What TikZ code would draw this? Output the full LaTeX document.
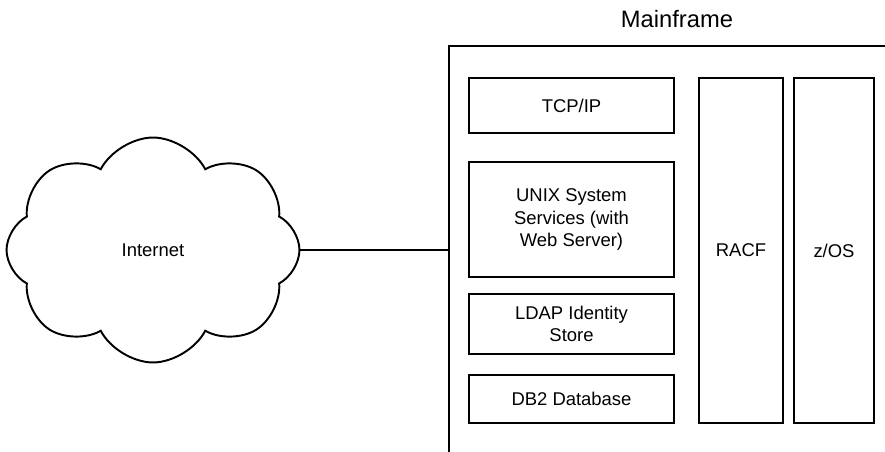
\documentclass[tikz,border=0pt]{standalone}
\usepackage{fontspec}
\setmainfont{Liberation Sans}
\usetikzlibrary{shapes.symbols}

\tikzset{
  boxline/.style={line width=1.1pt},
  layer/.style={boxline, draw, minimum width=4.1cm, align=center, inner sep=0pt,
    font=\fontsize{10.5}{12.6}\selectfont},
  pillar/.style={boxline, draw, minimum height=6.9cm, align=center, inner sep=0pt,
    font=\fontsize{10.5}{12.6}\selectfont},
}

\begin{document}
\begin{tikzpicture}[x=0.02cm,y=-0.02cm]
    \useasboundingbox (0,0) rectangle (885,452);

    % Internet
    \node[cloud, cloud puffs=8, cloud puff arc=125, aspect=1.3, boxline, draw,
      minimum width=5.86cm, minimum height=4.5cm,
      font=\fontsize{10.5}{12.6}\selectfont] (net) at (153,250) {Internet};

    % Mainframe
    \node[font=\fontsize{13.5}{16}\selectfont] (mftitle) at (677,19) {Mainframe};
    \draw[boxline] (449,452) -- (449,46) -- (885,46);
    \coordinate (mfin) at (449,250);

    \node[layer, minimum height=1.1cm]  (tcpip) at (571.5,105.5) {TCP/IP};
    \node[layer, minimum height=2.3cm]  (uss)   at (571.5,219.5) {UNIX System\\Services (with\\Web Server)};
    \node[layer, minimum height=1.2cm]  (ldap)  at (571.5,324)   {LDAP Identity\\Store};
    \node[layer, minimum height=0.96cm] (db2)   at (571.5,399)   {DB2 Database};

    \node[pillar, minimum width=1.68cm] (racf) at (741,250.5) {RACF};
    \node[pillar, minimum width=1.6cm]  (zos)  at (834,250.5) {z/OS};

    \draw[boxline] (net) -- (mfin);
\end{tikzpicture}
\end{document}
